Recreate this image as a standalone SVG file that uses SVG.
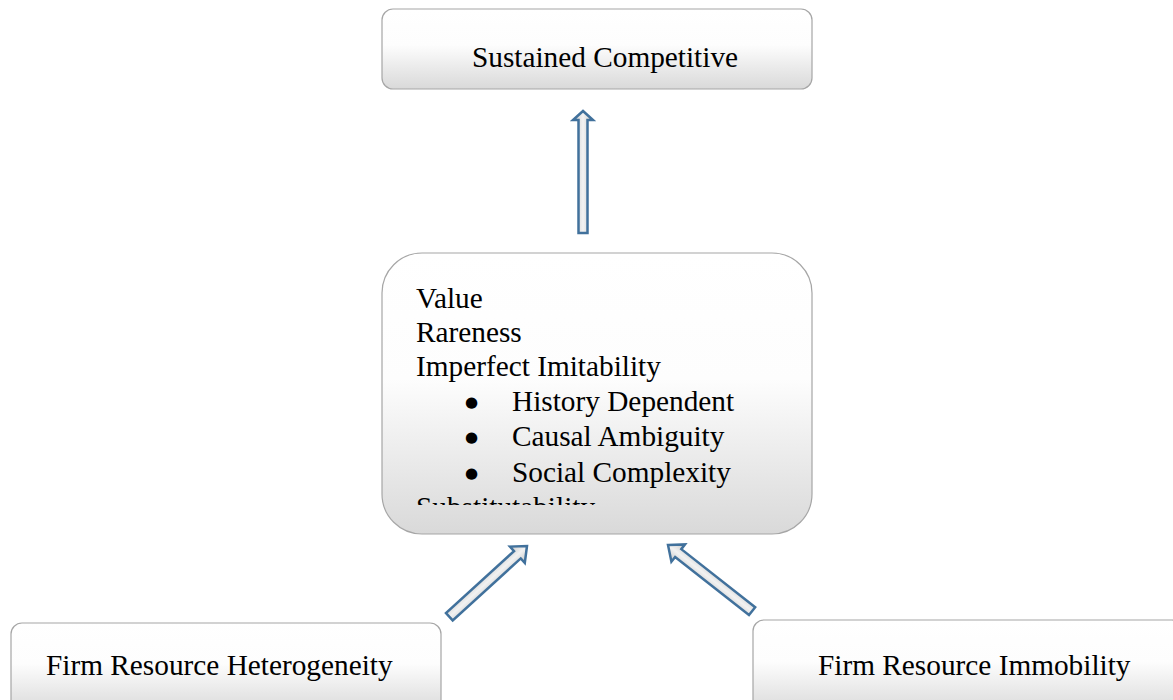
<svg xmlns="http://www.w3.org/2000/svg" width="1173" height="700" viewBox="0 0 1173 700">
<defs>
<linearGradient id="boxg" x1="0" y1="0" x2="0" y2="1">
<stop offset="0" stop-color="#ffffff"/>
<stop offset="0.45" stop-color="#fdfdfd"/>
<stop offset="1" stop-color="#d9d9d9"/>
</linearGradient>
<linearGradient id="arrg" x1="0" y1="0" x2="1" y2="0">
<stop offset="0" stop-color="#c8c8c8"/>
<stop offset="0.5" stop-color="#f2f2f2"/>
<stop offset="1" stop-color="#c8c8c8"/>
</linearGradient>
<clipPath id="clipMid"><rect x="382" y="253" width="430" height="252"/></clipPath>
</defs>
<style>
.box{fill:url(#boxg);stroke:#a6a6a6;stroke-width:1.2}
.t{font-family:"Liberation Serif","Times New Roman",serif;font-size:29.3px;fill:#000}
.b{font-family:"DejaVu Sans",sans-serif;font-size:15px;fill:#000}
.arr{fill:url(#arrg);stroke:#41719c;stroke-width:2.5;stroke-linejoin:miter}
</style>
<rect width="1173" height="700" fill="#ffffff"/>
<g id="connectors">
<polygon class="arr" transform="translate(583,111)" points="0,0 10,9 4.5,9 4.5,122 -4.5,122 -4.5,9 -10,9"/>
<polygon class="arr" transform="translate(527,546) rotate(47.7)" points="0,0 11,13 5,13 5,105 -5,105 -5,13 -11,13"/>
<polygon class="arr" transform="translate(668,545) rotate(-51.8)" points="0,0 11,13 5,13 5,107 -5,107 -5,13 -11,13"/>
</g>
<g id="node-sca">
<rect class="box" x="382" y="9" width="430" height="80" rx="11"/>
<text class="t" x="605" y="67" text-anchor="middle">Sustained Competitive</text>
</g>
<g id="node-attributes">
<rect class="box" x="382" y="253" width="430" height="281" rx="40"/>
<g clip-path="url(#clipMid)">
<text class="t" x="416" y="308">Value</text>
<text class="t" x="416" y="342">Rareness</text>
<text class="t" x="416" y="376">Imperfect Imitability</text>
<text class="b" x="465" y="407">●</text>
<text class="t" x="512" y="411">History Dependent</text>
<text class="b" x="465" y="442">●</text>
<text class="t" x="512" y="446">Causal Ambiguity</text>
<text class="b" x="465" y="478">●</text>
<text class="t" x="512" y="482">Social Complexity</text>
<text class="t" x="416" y="517">Substitutability</text>
</g>
</g>
<g id="node-heterogeneity">
<rect class="box" x="11" y="623" width="430" height="90" rx="11"/>
<text class="t" x="46" y="675">Firm Resource Heterogeneity</text>
</g>
<g id="node-immobility">
<rect class="box" x="753" y="620" width="430" height="93" rx="11"/>
<text class="t" x="818" y="675">Firm Resource Immobility</text>
</g>
</svg>
